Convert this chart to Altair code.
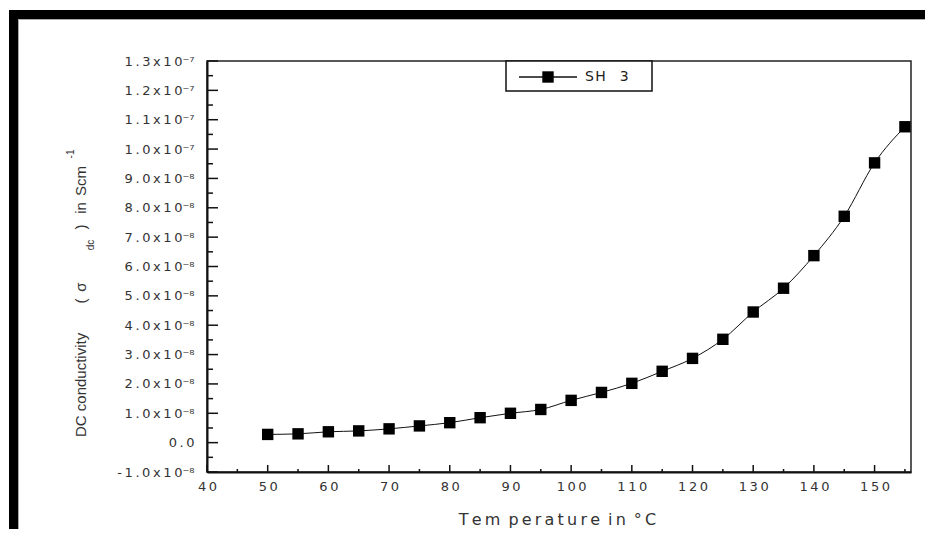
import json
import altair as alt
import pandas as pd

# ---- data ----
temperature = [50, 55, 60, 65, 70, 75, 80, 85, 90, 95, 100, 105,
               110, 115, 120, 125, 130, 135, 140, 145, 150, 155]
conductivity = [2.8e-9, 3.0e-9, 3.7e-9, 4.0e-9, 4.7e-9, 5.7e-9, 6.8e-9, 8.5e-9,
                1.00e-8, 1.13e-8, 1.44e-8, 1.71e-8, 2.02e-8, 2.43e-8, 2.87e-8,
                3.52e-8, 4.45e-8, 5.26e-8, 6.37e-8, 7.71e-8, 9.53e-8, 1.076e-7]
series = ["SH 3"]

x_major = [40, 50, 60, 70, 80, 90, 100, 110, 120, 130, 140, 150]
x_minor = [45, 55, 65, 75, 85, 95, 105, 115, 125, 135, 145, 155]
x_labels = ["40", "50", "60", "70", "80", "90", "100", "110", "120", "130", "140", "150"]

y_major = [-1e-8, 0.0, 1e-8, 2e-8, 3e-8, 4e-8, 5e-8, 6e-8, 7e-8, 8e-8, 9e-8,
           1.0e-7, 1.1e-7, 1.2e-7, 1.3e-7]
y_minor = [-5e-9, 5e-9, 1.5e-8, 2.5e-8, 3.5e-8, 4.5e-8, 5.5e-8, 6.5e-8, 7.5e-8,
           8.5e-8, 9.5e-8, 1.05e-7, 1.15e-7, 1.25e-7]
y_labels = ["-1.0x10⁻⁸", "0.0", "1.0x10⁻⁸", "2.0x10⁻⁸", "3.0x10⁻⁸", "4.0x10⁻⁸",
            "5.0x10⁻⁸", "6.0x10⁻⁸", "7.0x10⁻⁸", "8.0x10⁻⁸", "9.0x10⁻⁸",
            "1.0x10⁻⁷", "1.1x10⁻⁷", "1.2x10⁻⁷", "1.3x10⁻⁷"]

x_title = "Tem perature in °C"

SUP = set("⁻⁰¹²³⁴⁵⁶⁷⁸⁹")


def spaced(s, gap="\u2009"):
    out = ""
    for i, ch in enumerate(s):
        out += ch
        if i + 1 < len(s) and s[i + 1] not in SUP and ch != " " and s[i + 1] != " ":
            out += gap
    return out


W, H = 704, 411
TXT = "#333333"
FONT = "DejaVu Sans"

df = pd.DataFrame({"temperature": temperature, "conductivity": conductivity})
xs = alt.Scale(domain=[40, 156], nice=False, zero=False)
ys = alt.Scale(domain=[-1e-8, 1.3e-7], nice=False, zero=False)

ylab_expr = json.dumps([spaced(s) for s in y_labels], ensure_ascii=False) + "[round(datum.value*1e8)+1]"
xlab_expr = json.dumps([spaced(s) for s in x_labels], ensure_ascii=False) + "[round((datum.value-40)/10)]"

x_axis = alt.Axis(values=x_major, ticks=False, tickSize=0, grid=False,
                  domainColor="#111111", domainWidth=2,
                  labelExpr=xlab_expr, labelFont=FONT, labelFontSize=13,
                  labelColor=TXT, labelPadding=8, labelFlush=False,
                  title=spaced(x_title).replace(" ", "\u2002"), titleFont=FONT,
                  titleFontSize=16, titleFontWeight="normal", titleColor=TXT,
                  titleX=350, titleY=47, titleBaseline="middle")
y_axis = alt.Axis(values=y_major, ticks=False, tickSize=0, grid=False,
                  domainColor="#111111", domainWidth=2,
                  labelExpr=ylab_expr, labelFont=FONT, labelFontSize=13,
                  labelColor=TXT, labelPadding=13, labelFlush=False,
                  title=None)

base = alt.Chart(df)

line = base.mark_line(color="#111111", strokeWidth=1, interpolate="monotone").encode(
    x=alt.X("temperature:Q", scale=xs, axis=x_axis),
    y=alt.Y("conductivity:Q", scale=ys, axis=y_axis),
)

points = base.mark_square(size=130, color="#000000", opacity=1).encode(
    x=alt.X("temperature:Q", scale=xs, axis=x_axis),
    y=alt.Y("conductivity:Q", scale=ys, axis=y_axis),
)

ymaj = alt.Chart(pd.DataFrame({"v": y_major})).mark_rule(color="#111111", strokeWidth=1.5).encode(
    y=alt.Y("v:Q", scale=ys, axis=y_axis), x=alt.value(0), x2=alt.value(11))
ymin = alt.Chart(pd.DataFrame({"v": y_minor})).mark_rule(color="#111111", strokeWidth=1.5).encode(
    y=alt.Y("v:Q", scale=ys, axis=y_axis), x=alt.value(0), x2=alt.value(6))
xmaj = alt.Chart(pd.DataFrame({"v": x_major})).mark_rule(color="#111111", strokeWidth=1.5).encode(
    x=alt.X("v:Q", scale=xs, axis=x_axis), y=alt.value(H), y2=alt.value(H - 7))
xmin = alt.Chart(pd.DataFrame({"v": x_minor})).mark_rule(color="#111111", strokeWidth=1.5).encode(
    x=alt.X("v:Q", scale=xs, axis=x_axis), y=alt.value(H), y2=alt.value(H - 3))

one = alt.Data(values=[{"k": 1}])

# page frame (decoration)
top_band = alt.Chart(one).mark_rect(color="#000000").encode(
    x=alt.value(-198), x2=alt.value(718), y=alt.value(-51), y2=alt.value(-42))
left_band = alt.Chart(one).mark_rect(color="#000000").encode(
    x=alt.value(-198), x2=alt.value(-189), y=alt.value(-51), y2=alt.value(470))
top_grey = alt.Chart(one).mark_rule(color="#aaaaaa", strokeWidth=1).encode(
    x=alt.value(-189), x2=alt.value(718), y=alt.value(-41.5))
left_grey = alt.Chart(one).mark_rule(color="#aaaaaa", strokeWidth=1).encode(
    x=alt.value(-188.5), y=alt.value(-42), y2=alt.value(470))

# legend
leg_box = alt.Chart(one).mark_rect(fill="#ffffff", stroke="#111111", strokeWidth=1.5).encode(
    x=alt.value(299), x2=alt.value(445), y=alt.value(0), y2=alt.value(30))
leg_line = alt.Chart(one).mark_rule(color="#111111", strokeWidth=1.5).encode(
    x=alt.value(312), x2=alt.value(370), y=alt.value(16))
leg_pt = alt.Chart(one).mark_square(size=130, color="#000000", opacity=1).encode(
    x=alt.value(341), y=alt.value(16))
leg_txt = alt.Chart(pd.DataFrame({"s": [spaced(s, "\u200a").replace(" ", "\u2002\u2002") for s in series]})).mark_text(
    align="left", baseline="middle", font=FONT, fontSize=14, color="#222222").encode(
    x=alt.value(378), y=alt.value(16), text="s:N")

# y title pieces
YF = "Liberation Sans"


def ypiece(txt, x, y, size=15, align="center"):
    return alt.Chart(one).mark_text(angle=270, align=align, baseline="middle", font=YF,
                                    fontSize=size, color=TXT).encode(
        x=alt.value(x), y=alt.value(y), text=alt.value(txt))


yts = [
    ypiece("DC conductivity", -126, 376, align="left"),
    ypiece("(", -126, 240),
    ypiece("σ", -126, 226),
    ypiece("dc", -116, 184, size=10),
    ypiece(")", -126, 166),
    ypiece("in", -126, 147),
    ypiece("Scm", -126, 120),
    ypiece("-1", -136, 93, size=10),
]

chart = alt.layer(
    top_band, left_band, top_grey, left_grey,
    line, points, ymaj, ymin, xmaj, xmin,
    leg_box, leg_line, leg_pt, leg_txt,
    *yts,
).properties(
    width=W, height=H,
    autosize=alt.AutoSizeParams(type="none"),
    padding={"left": 199, "top": 53, "right": 14, "bottom": 57},
    background="#ffffff",
).configure_view(stroke="#222222", strokeWidth=1.5)

chart.save("out.html", embed_options={"renderer": "svg", "actions": False})
